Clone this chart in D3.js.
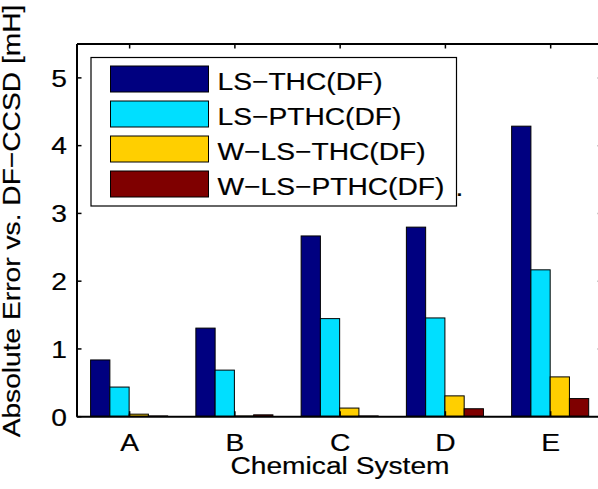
<!DOCTYPE html>
<html>
<head>
<meta charset="utf-8">
<script src="https://cdn.jsdelivr.net/npm/d3@7"></script>
<style>
  html, body { margin: 0; padding: 0; background: #fff; }
  svg { display: block; font-family: "Liberation Sans", Arial, Helvetica, sans-serif; }
  svg text { stroke: #000; stroke-width: 0.2px; }
</style>
</head>
<body>
<svg id="chart" width="598" height="489"></svg>
<script>
// Chemical systems on the x axis
const systems = ["A", "B", "C", "D", "E"];
// Method names, in legend order
const methods = ["LS−THC(DF)", "LS−PTHC(DF)", "W−LS−THC(DF)", "W−LS−PTHC(DF)"];
const methodColors = ["#000080", "#00DFFF", "#FFCF00", "#7F0000"];
// Absolute error vs. DF-CCSD [mH], one array per method
const lsThc   = [0.83, 1.30, 2.66, 2.79, 4.28];
const lsPthc  = [0.43, 0.68, 1.44, 1.45, 2.16];
const wLsThc  = [0.03, 0.004, 0.12, 0.30, 0.58];
const wLsPthc = [0.004, 0.02, 0.004, 0.11, 0.26];
const yTicks = [0, 1, 2, 3, 4, 5];

const series = [lsThc, lsPthc, wLsThc, wLsPthc];

const svg = d3.select("#chart");
const plotLeft = 76.5, plotRight = 602.8, plotTop = 43.5, plotBottom = 416.2;

// Group positions 1..5, MATLAB-style limits [0.5, 5.5]
const x = d3.scaleLinear().domain([0.5, 5.5]).range([plotLeft, plotRight]);
const y = d3.scaleLinear().domain([0, 5.5]).range([plotBottom, plotTop]);
const barW = 0.183; // in group units

// Text is set in a wide Helvetica-like face: Liberation Sans stretched along the baseline
const fontSize = 24.5;
const stretch = 1.15;

const g = svg.append("g");

// Bars
series.forEach((vals, si) => {
  g.selectAll(null)
    .data(vals)
    .enter()
    .append("rect")
    .attr("x", (d, i) => x(i + 1 + (si - 1.5) * barW - barW / 2))
    .attr("width", x(barW) - x(0))
    .attr("y", d => y(d))
    .attr("height", d => y(0) - y(d))
    .attr("fill", methodColors[si])
    .attr("stroke", "#000")
    .attr("stroke-width", 1);
});

// Axes (ticks drawn inward, box on all four sides)
const tickLen = 5;

const yAxisL = d3.axisLeft(y).tickValues(yTicks).tickSizeInner(-tickLen).tickSizeOuter(0).tickFormat(d3.format("d"));
const yAxisR = d3.axisRight(y).tickValues(yTicks).tickSizeInner(-tickLen).tickSizeOuter(0).tickFormat("");
const xAxisB = d3.axisBottom(x).tickValues([1, 2, 3, 4, 5]).tickSizeInner(-tickLen).tickSizeOuter(0).tickFormat((d, i) => systems[i]);
const xAxisT = d3.axisTop(x).tickValues([1, 2, 3, 4, 5]).tickSizeInner(-tickLen).tickSizeOuter(0).tickFormat("");

function styleAxis(sel) {
  sel.attr("font-family", null).attr("font-size", null);
  sel.selectAll("path.domain").attr("stroke", "#000").attr("stroke-width", 2);
  sel.selectAll(".tick line").attr("stroke", "#000").attr("stroke-width", 1.5);
  sel.selectAll(".tick text").attr("fill", "#000").attr("font-size", fontSize);
}

const gyL = svg.append("g").attr("transform", `translate(${plotLeft},0)`).call(yAxisL).call(styleAxis);
svg.append("g").attr("transform", `translate(${plotRight},0)`).call(yAxisR).call(styleAxis);
const gxB = svg.append("g").attr("transform", `translate(0,${plotBottom})`).call(xAxisB).call(styleAxis);
svg.append("g").attr("transform", `translate(0,${plotTop})`).call(xAxisT).call(styleAxis);

// Place tick labels with the horizontal stretch
gyL.selectAll(".tick text")
  .attr("x", null).attr("dy", null)
  .attr("transform", `translate(-9.5,8.8) scale(${stretch},1)`);
gxB.selectAll(".tick text")
  .attr("y", null).attr("dy", null)
  .attr("transform", `translate(0,34.5) scale(${stretch},1)`);

// Axis titles
svg.append("text")
  .attr("transform", `translate(340,474) scale(${stretch},1)`)
  .attr("text-anchor", "middle")
  .attr("font-size", fontSize)
  .text("Chemical System");

svg.append("text")
  .attr("transform", `translate(19.5,221) rotate(-90) scale(${stretch},1)`)
  .attr("text-anchor", "middle")
  .attr("font-size", fontSize)
  .text("Absolute Error vs. DF−CCSD [mH]");

// Legend
const legend = svg.append("g");
legend.append("rect")
  .attr("x", 91).attr("y", 57.5)
  .attr("width", 365.5).attr("height", 148.5)
  .attr("fill", "#fff").attr("stroke", "#000").attr("stroke-width", 1.2);

methods.forEach((m, i) => {
  const cy = 79 + i * 35;
  legend.append("rect")
    .attr("x", 110.5).attr("y", cy - 13)
    .attr("width", 98).attr("height", 26)
    .attr("fill", methodColors[i]).attr("stroke", "#000").attr("stroke-width", 1);
  legend.append("text")
    .attr("transform", `translate(217.5,${cy + 10.8}) scale(${stretch},1)`)
    .attr("font-size", fontSize)
    .text(m);
});
legend.append("text")
  .attr("transform", `translate(455.5,196) scale(${stretch},1)`)
  .attr("font-size", fontSize)
  .text(".");
</script>
</body>
</html>
